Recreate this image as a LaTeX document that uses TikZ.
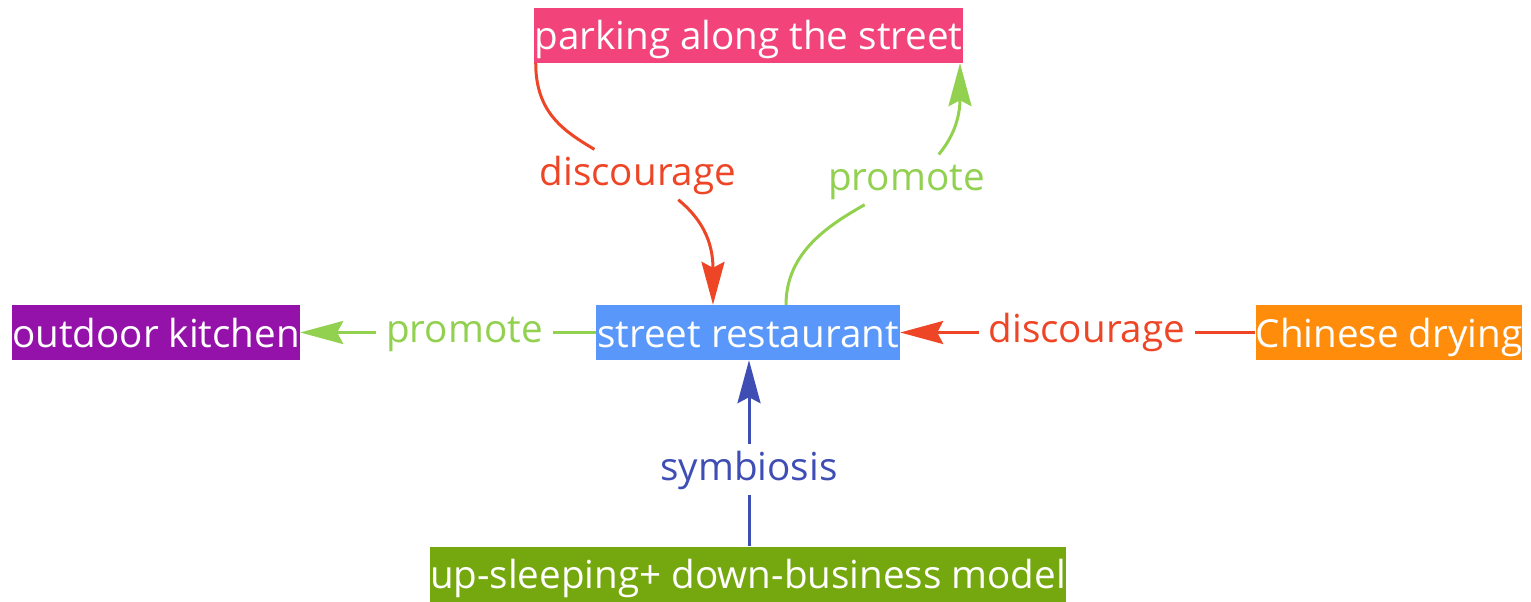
\documentclass[tikz,border=0pt]{standalone}
\usepackage{fontspec}
\setmainfont{Open Sans}
\usetikzlibrary{arrows.meta}
\definecolor{cRed}{RGB}{238,69,38}
\definecolor{cLGreen}{RGB}{146,208,80}
\definecolor{cBlueLine}{RGB}{63,78,181}
\definecolor{cPink}{RGB}{242,67,123}
\definecolor{cPurple}{RGB}{148,17,170}
\definecolor{cBlueBox}{RGB}{90,151,250}
\definecolor{cOrange}{RGB}{255,140,10}
\definecolor{cOlive}{RGB}{117,168,14}
\tikzset{
  box/.style={text=white, inner xsep=0pt, inner ysep=0pt, minimum height=55pt,
    text height=38pt, text depth=9pt, font=\fontsize{38.6}{46}\selectfont},
  lbl/.style={anchor=base, inner xsep=10pt, inner ysep=5pt,
    text height=30.4pt, text depth=9.5pt, font=\fontsize{38.6}{46}\selectfont},
  conn/.style={line width=3pt},
  tip/.style={-{Stealth[length=43pt, width=23pt, inset=6pt]}}
}
\begin{document}
\begin{tikzpicture}[x=1pt,y=-1pt]
\useasboundingbox (0,0) rectangle (1531,602);
% boxes
\node[box, fill=cPink, minimum width=427pt] (park) at (748.5,35.5) {parking along the street};
\node[box, fill=cPurple, minimum width=288pt] (kitchen) at (156,332.5) {outdoor kitchen};
\node[box, fill=cBlueBox, minimum width=304pt] (rest) at (748,332.5) {street restaurant};
\node[box, fill=cOrange, minimum width=266pt] (drying) at (1389,332.5) {Chinese drying};
\node[box, fill=cOlive, minimum width=636pt] (model) at (748,574) {up-sleeping+ down-business model};
% labels
\node[lbl, text=cRed] (dl) at (638,185) {discourage};
\node[lbl, text=cLGreen] (pl) at (906.5,190) {promote};
\node[lbl, text=cLGreen] (kl) at (464.5,342) {promote};
\node[lbl, text=cRed] (dr) at (1087,342) {discourage};
\node[lbl, text=cBlueLine] (sl) at (749,480) {symbiosis};
% connectors
\draw[conn, cRed] ([xshift=1.5pt]park.south west) .. controls +(0,50) and +(-30,-18) .. (dl.150);
\draw[conn, cRed, tip] (dl.-32) .. controls +(22,18) and +(0,-65) .. ([xshift=-35pt]rest.north);
\draw[conn, cLGreen] ([xshift=38pt]rest.north) .. controls +(0,-53) and +(-35,20) .. (pl.211);
\draw[conn, cLGreen, tip] (pl.38) .. controls +(17,-20) and +(0,50) .. ([xshift=211.5pt]park.south);
\draw[conn, cLGreen] (rest.west) -- (kl.east |- rest.west);
\draw[conn, cLGreen, tip] (kl.west |- kitchen.east) -- (kitchen.east);
\draw[conn, cRed] (drying.west) -- (dr.east |- drying.west);
\draw[conn, cRed, tip] (dr.west |- rest.east) -- (rest.east);
\draw[conn, cBlueLine] (sl.south |- model.north) -- (sl.south);
\draw[conn, cBlueLine, tip] (sl.north) -- (sl.north |- rest.south);
\end{tikzpicture}
\end{document}
